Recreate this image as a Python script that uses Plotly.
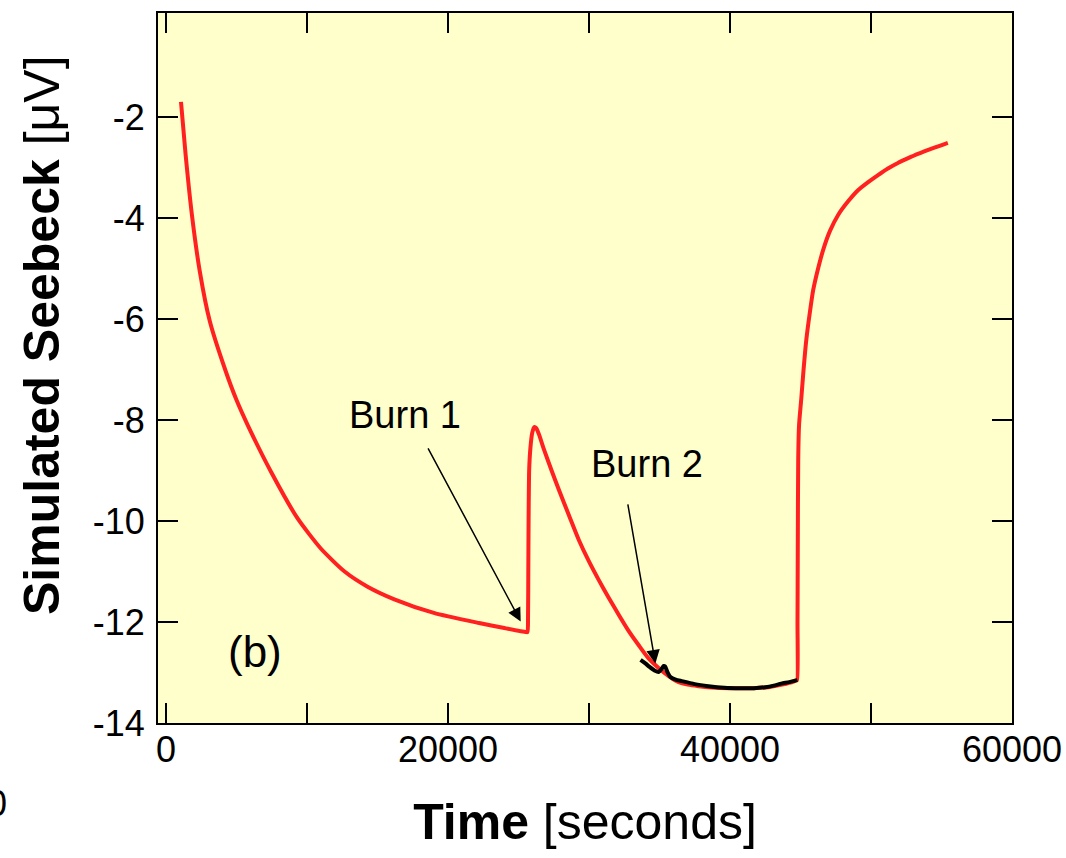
import plotly.graph_objects as go

# Red simulated curve (time in seconds, Seebeck in microvolts)
red_t = [1070, 1400, 1850, 2400, 3120, 4200, 5000, 5800, 7500, 9340, 11000, 12670, 14300, 16200,
         19000, 22210, 24000, 25540,
         25640, 25680, 25700, 25720, 25760, 25850, 25980, 26120, 26260, 26450, 26820, 27350,
         27880, 28600, 29290, 30000, 30700, 31400, 32120, 32800, 33530, 34200, 34940, 35650,
         36360, 37000, 37770, 39000, 40600, 41700, 42720, 43700, 44500, 44700,
         44760, 44790, 44810, 44840, 44900, 45050, 45220, 45410, 45650, 45900, 46250, 46610,
         47100, 47670, 48350, 49080, 49800, 50500, 51200, 51910, 52600, 53330, 54400, 55450]
red_v = [-1.70, -2.75, -3.95, -5.05, -6.05, -7.00, -7.60, -8.10, -9.05, -9.95, -10.55, -11.00,
         -11.30, -11.55, -11.82, -12.02, -12.12, -12.20,
         -12.20, -11.9, -11.0, -10.0, -9.0, -8.55, -8.25, -8.14, -8.16, -8.28, -8.59, -9.00,
         -9.39, -9.90, -10.38, -10.80, -11.17, -11.52, -11.86, -12.17, -12.46, -12.71, -12.91,
         -13.07, -13.19, -13.24, -13.27, -13.30, -13.31, -13.31, -13.29, -13.24, -13.18, -13.15,
         -13.15, -12.0, -10.5, -8.79, -8.10, -7.60, -7.00, -6.42, -5.90, -5.43, -5.00, -4.63,
         -4.25, -3.94, -3.68, -3.45, -3.29, -3.15, -3.02, -2.91, -2.82, -2.73, -2.615, -2.51]

# Black curve (Burn 2 segment)
black_t = [33660, 34000, 34300, 34650, 34940, 35150, 35300, 35400, 35550, 35780, 36150, 36570,
           37500, 38480, 39600, 40810, 41700, 42510, 43100, 43640, 44200, 44780]
black_v = [-12.75, -12.82, -12.89, -12.96, -12.99, -12.93, -12.87, -12.88, -12.98, -13.09, -13.14,
           -13.17, -13.23, -13.27, -13.30, -13.31, -13.31, -13.29, -13.26, -13.22, -13.19, -13.15]

x_tickvals = [0, 20000, 40000, 60000]
x_ticktext = ["0", "20000", "40000", "60000"]
y_tickvals = [-2, -4, -6, -8, -10, -12, -14]
y_ticktext = ["-2", "-4", "-6", "-8", "-10", "-12", "-14"]

# Annotations: label text, label position, arrow tip, arrow tail
burn_labels = ["Burn 1", "Burn 2"]
burn_label_xy = [(16930, -7.90), (34090, -8.87)]
burn_tip_xy = [(25160, -11.99), (34710, -12.82)]
burn_tail_xy = [(18535, -8.53), (32740, -9.64)]

FONT = "Liberation Sans, Arial, sans-serif"

fig = go.Figure()
fig.add_trace(go.Scatter(x=red_t, y=red_v, mode="lines",
                         line=dict(color="#FF2020", width=4, shape="spline", smoothing=0.6),
                         showlegend=False))
fig.add_trace(go.Scatter(x=black_t, y=black_v, mode="lines",
                         line=dict(color="black", width=4, shape="spline", smoothing=0.6),
                         showlegend=False))

for lab, (lx, ly), (tx, ty), (ax, ay) in zip(burn_labels, burn_label_xy, burn_tip_xy, burn_tail_xy):
    fig.add_annotation(x=lx, y=ly, text=lab, showarrow=False,
                       font=dict(family=FONT, size=38, color="black"))
    fig.add_annotation(x=tx, y=ty, ax=ax, ay=ay, axref="x", ayref="y", text="",
                       showarrow=True, arrowhead=2, arrowsize=1.8, arrowwidth=1.5,
                       arrowcolor="black")

fig.add_annotation(x=6300, y=-12.59, text="(b)", showarrow=False,
                   font=dict(family=FONT, size=44, color="black"))
# fragment of neighbouring panel label
fig.add_annotation(xref="paper", yref="paper", x=(9 - 158) / 854, y=(723 - 803) / 710,
                   xanchor="right", yanchor="middle", text="0", showarrow=False,
                   font=dict(family=FONT, size=36, color="black"))
# y axis title
fig.add_annotation(xref="paper", yref="paper", x=(42 - 158) / 854, y=(723 - 335) / 710,
                   xanchor="center", yanchor="middle", textangle=-90,
                   text="<b>Simulated Seebeck</b> [μV]", showarrow=False,
                   font=dict(family=FONT, size=50, color="black"))

axis_common = dict(showline=True, linecolor="black", linewidth=2, mirror="allticks",
                   ticks="inside", ticklen=20, tickwidth=2, tickcolor="black",
                   showgrid=False, zeroline=False, automargin=False,
                   tickfont=dict(family=FONT, size=36, color="black"))

fig.update_xaxes(range=[-560, 60000], tickvals=x_tickvals, ticktext=x_ticktext,
                 ticklabelstandoff=-6,
                 minor=dict(dtick=10000, tick0=0, ticks="inside", ticklen=20, tickwidth=2,
                            tickcolor="black", showgrid=False),
                 title=dict(text="<b>Time</b> [seconds]", standoff=35,
                            font=dict(family=FONT, size=50, color="black")),
                 **axis_common)
fig.update_yaxes(range=[-14, 0.06], tickvals=y_tickvals, ticktext=y_ticktext,
                 ticklabelstandoff=4,
                 **axis_common)

fig.update_layout(width=1066, height=858,
                  margin=dict(l=158, r=54, t=13, b=135),
                  plot_bgcolor="#FFFFCC", paper_bgcolor="white",
                  font=dict(family=FONT, color="black"))

fig.write_html("out.html", config={"displayModeBar": False},
               post_script="document.body.style.margin='0';document.body.style.overflow='hidden';")
